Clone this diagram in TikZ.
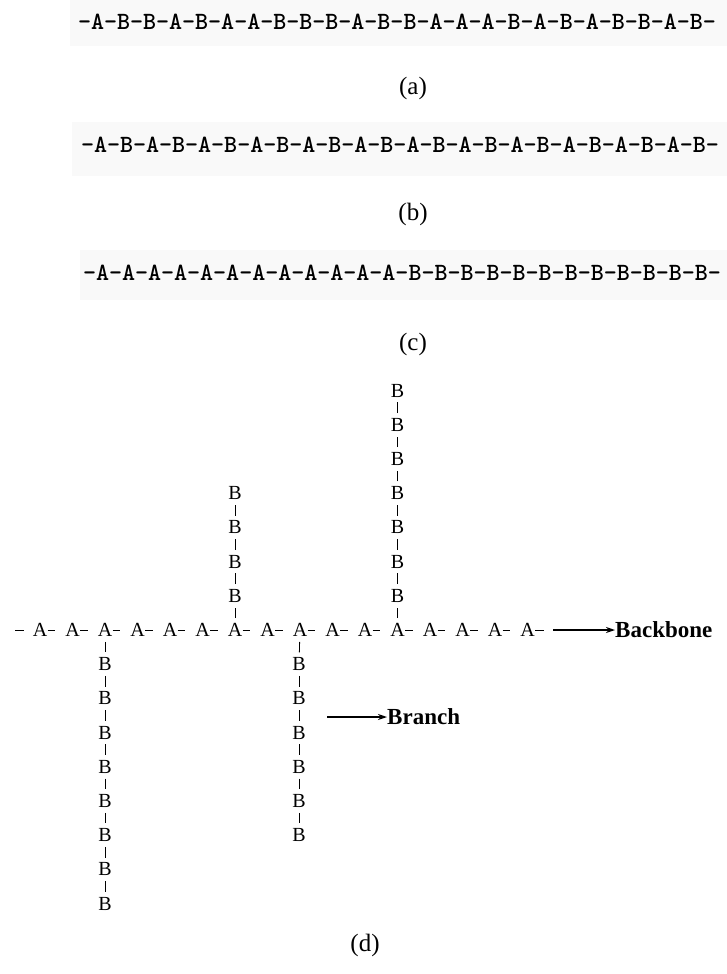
\documentclass[tikz,border=0pt]{standalone}
\usepackage{fontspec}
\setmainfont{Liberation Serif}
\usetikzlibrary{arrows.meta}
\begin{document}
\begin{tikzpicture}[x=1pt,y=-1pt,
  seq/.style={inner sep=0pt, font=\ttfamily\bfseries\fontsize{24.8}{27}\selectfont},
  band/.style={fill=black!2.5, draw=none},
  subcap/.style={font=\fontsize{25}{28}\selectfont, inner sep=0pt},
  mono/.style={inner sep=0pt, font=\fontsize{20}{22}\selectfont},
  bond/.style={line width=0.8pt},
  lab/.style={font=\bfseries\fontsize{23}{26}\selectfont, inner sep=0pt, anchor=west},
  pointer/.style={line width=1.3pt, -{Stealth[length=9pt,width=6pt]}}
]
\useasboundingbox (0,0) rectangle (727,974);
% backgrounds of the sequence strips
\fill[band] (70,0) rectangle (727,46);
\fill[band] (72,122) rectangle (727,176);
\fill[band] (80,250) rectangle (727,300);
% sequences
\node[seq] (seqa) at (397,22) {-A-B-B-A-B-A-A-B-B-B-A-B-B-A-A-A-B-A-B-A-B-B-A-B-};
\node[subcap] (capa) at (413,88) {(a)};
\node[seq] (seqb) at (400,145) {-A-B-A-B-A-B-A-B-A-B-A-B-A-B-A-B-A-B-A-B-A-B-A-B-};
\node[subcap] (capb) at (413,214) {(b)};
\node[seq] (seqc) at (402,273) {-A-A-A-A-A-A-A-A-A-A-A-A-B-B-B-B-B-B-B-B-B-B-B-B-};
\node[subcap] (capc) at (413,344) {(c)};
% (d) backbone
\foreach \i in {0,...,15} \node[mono] (A\i) at ({40+32.5*\i},630) {A};
\foreach \i [evaluate=\i as \j using int(\i+1)] in {0,...,14}
  \draw[bond, shorten <=0.3pt, shorten >=10pt] (A\i) -- (A\j);
\coordinate (lead0) at (15,630);
\coordinate (lead1) at (24,630);
\draw[bond] (lead0) -- (lead1);
\coordinate (tail) at ([xshift=9pt]A15.east);
\draw[bond, shorten <=0.3pt] (A15) -- (tail);
% branch down from A2 (8 B)
\foreach \k in {1,...,8} \node[mono] (L\k) at (105,{630+34.2*\k}) {B};
\draw[bond, shorten <=5pt, shorten >=5pt] (A2) -- (L1);
\foreach \k [evaluate=\k as \m using int(\k+1)] in {1,...,7}
  \draw[bond, shorten <=5pt, shorten >=5pt] (L\k) -- (L\m);
% branch up from A6 (4 B)
\foreach \k in {1,...,4} \node[mono] (U\k) at (235,{630-34.2*\k}) {B};
\draw[bond, shorten <=5pt, shorten >=5pt] (A6) -- (U1);
\foreach \k [evaluate=\k as \m using int(\k+1)] in {1,...,3}
  \draw[bond, shorten <=5pt, shorten >=5pt] (U\k) -- (U\m);
% branch down from A8 (6 B)
\foreach \k in {1,...,6} \node[mono] (D\k) at (299,{630+34.2*\k}) {B};
\draw[bond, shorten <=5pt, shorten >=5pt] (A8) -- (D1);
\foreach \k [evaluate=\k as \m using int(\k+1)] in {1,...,5}
  \draw[bond, shorten <=5pt, shorten >=5pt] (D\k) -- (D\m);
% branch up from A11 (7 B)
\foreach \k in {1,...,7} \node[mono] (V\k) at (397.5,{630-34.2*\k}) {B};
\draw[bond, shorten <=5pt, shorten >=5pt] (A11) -- (V1);
\foreach \k [evaluate=\k as \m using int(\k+1)] in {1,...,6}
  \draw[bond, shorten <=5pt, shorten >=5pt] (V\k) -- (V\m);
% labels with arrows
\node[lab] (backbone) at (615,630) {Backbone};
\coordinate (bbstart) at (553,630);
\draw[pointer] (bbstart) -- (backbone.west);
\node[lab] (branch) at (387,717) {Branch};
\coordinate (brstart) at (327,717);
\draw[pointer] (brstart) -- (branch.west);
\node[subcap] (capd) at (365,945) {(d)};
\end{tikzpicture}
\end{document}
